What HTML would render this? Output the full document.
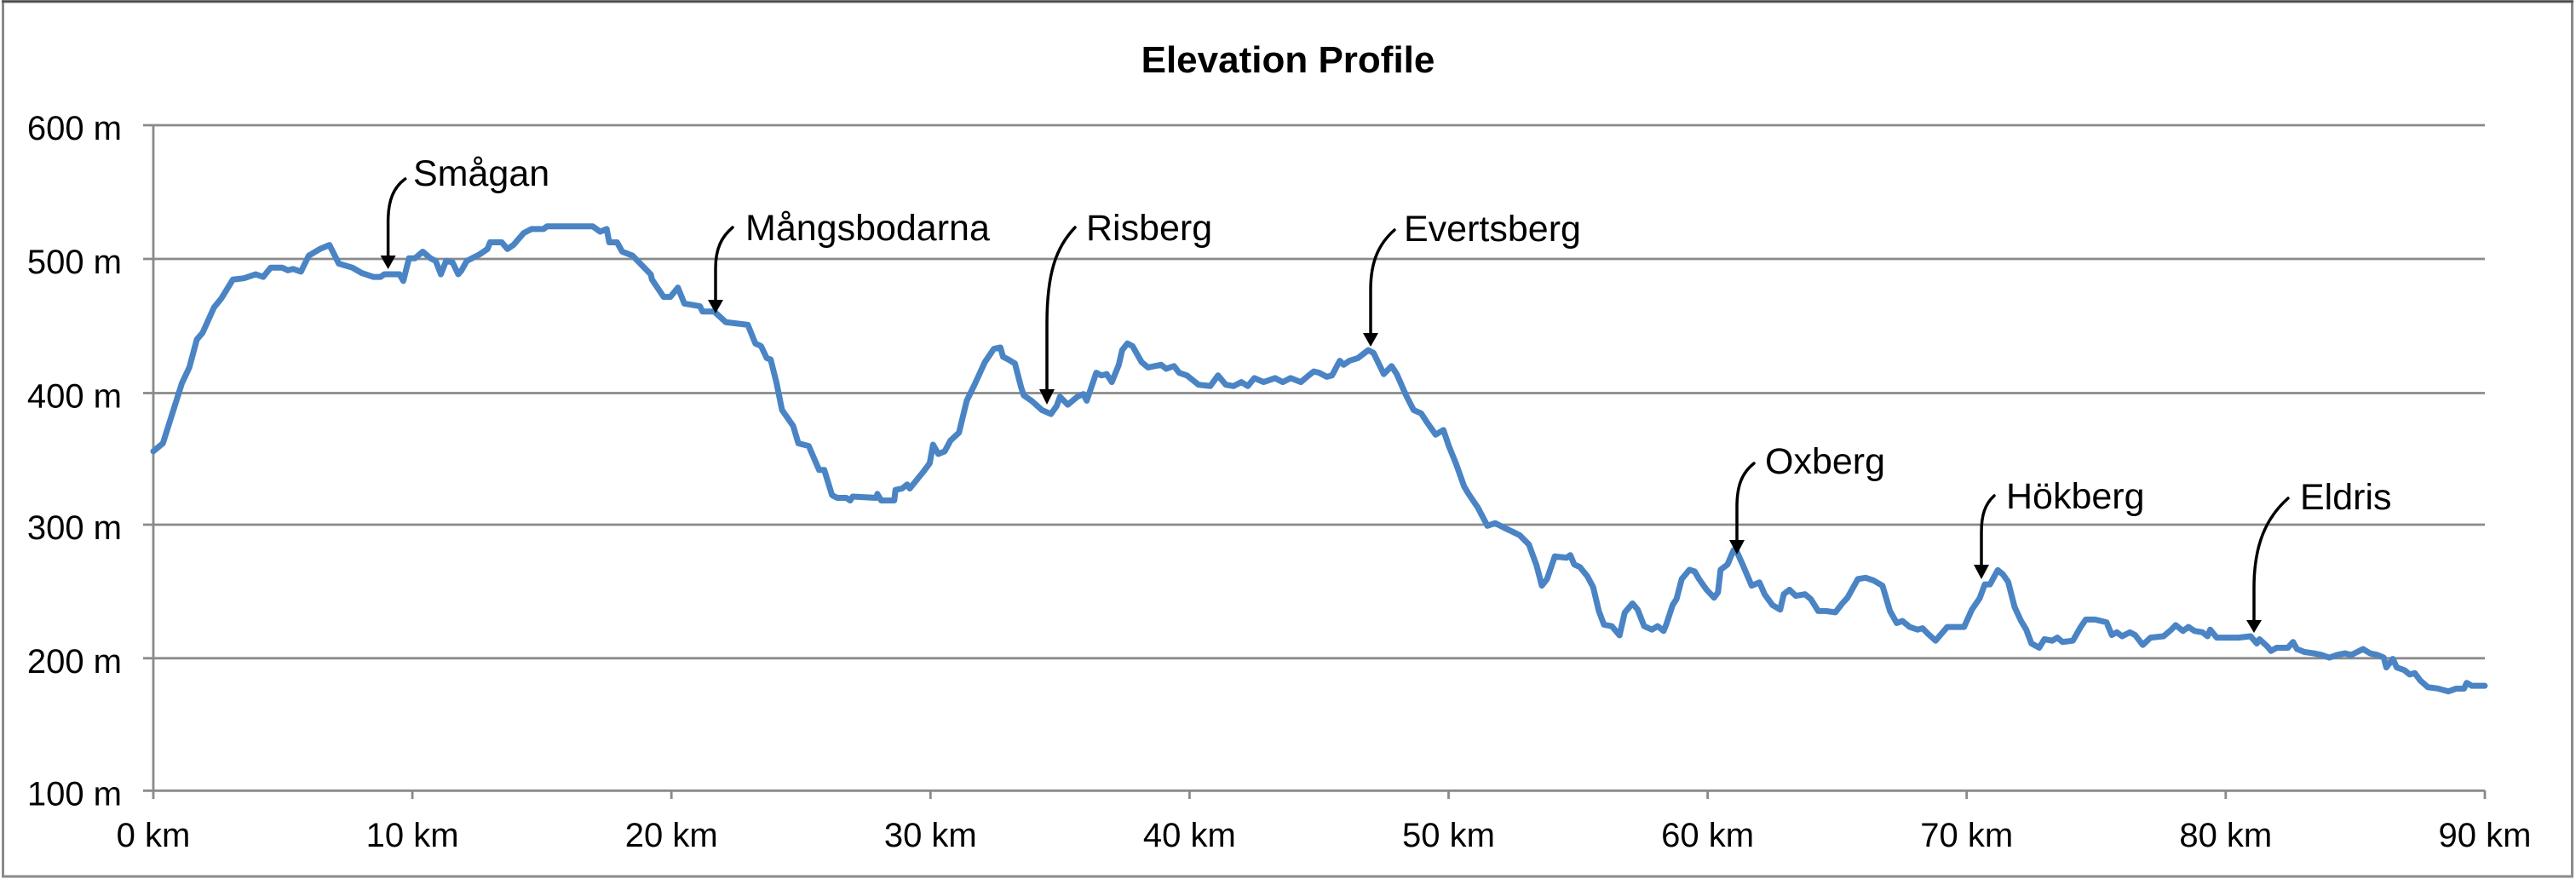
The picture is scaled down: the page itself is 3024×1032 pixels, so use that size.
<!DOCTYPE html>
<html>
<head>
<meta charset="utf-8">
<style>
  html, body { margin: 0; padding: 0; background: #ffffff; }
  body { width: 3024px; height: 1032px; overflow: hidden; }
  svg { display: block; }
  text { font-family: "Liberation Sans", Arial, sans-serif; fill: #000; }
</style>
</head>
<body>
<svg width="3024" height="1032" viewBox="0 0 3024 1032" xmlns="http://www.w3.org/2000/svg">
  <rect x="0" y="0" width="3024" height="1032" fill="#ffffff"/>
  <!-- outer frame -->
  <rect x="3.5" y="2" width="3016" height="1027" fill="none" stroke="#8a8a8a" stroke-width="3"/>
  <line x1="2" y1="1.5" x2="3021" y2="1.5" stroke="#4a4a4a" stroke-width="2.5"/>

  <!-- title -->
  <text x="1512" y="85" font-size="44" font-weight="bold" text-anchor="middle">Elevation Profile</text>

  <!-- gridlines -->
  <g stroke="#8a8a8a" stroke-width="2.8" fill="none">
    <line x1="168" y1="147" x2="2917" y2="147"/>
    <line x1="168" y1="304" x2="2917" y2="304"/>
    <line x1="168" y1="461.5" x2="2917" y2="461.5"/>
    <line x1="168" y1="616" x2="2917" y2="616"/>
    <line x1="168" y1="772.8" x2="2917" y2="772.8"/>
    <line x1="168" y1="928.3" x2="2917" y2="928.3"/>
    <!-- y axis -->
    <line x1="180" y1="147" x2="180" y2="938"/>
    <!-- x ticks -->
    <line x1="484.1" y1="928" x2="484.1" y2="938"/>
    <line x1="788.2" y1="928" x2="788.2" y2="938"/>
    <line x1="1092.3" y1="928" x2="1092.3" y2="938"/>
    <line x1="1396.4" y1="928" x2="1396.4" y2="938"/>
    <line x1="1700.5" y1="928" x2="1700.5" y2="938"/>
    <line x1="2004.6" y1="928" x2="2004.6" y2="938"/>
    <line x1="2308.7" y1="928" x2="2308.7" y2="938"/>
    <line x1="2612.8" y1="928" x2="2612.8" y2="938"/>
    <line x1="2917" y1="928" x2="2917" y2="938"/>
  </g>

  <!-- y labels -->
  <g font-size="40" text-anchor="end">
    <text x="143" y="164">600 m</text>
    <text x="143" y="321">500 m</text>
    <text x="143" y="478.5">400 m</text>
    <text x="143" y="633">300 m</text>
    <text x="143" y="789.8">200 m</text>
    <text x="143" y="945.3">100 m</text>
  </g>

  <!-- x labels -->
  <g font-size="40" text-anchor="middle">
    <text x="180" y="994">0 km</text>
    <text x="484.1" y="994">10 km</text>
    <text x="788.2" y="994">20 km</text>
    <text x="1092.3" y="994">30 km</text>
    <text x="1396.4" y="994">40 km</text>
    <text x="1700.5" y="994">50 km</text>
    <text x="2004.6" y="994">60 km</text>
    <text x="2308.7" y="994">70 km</text>
    <text x="2612.8" y="994">80 km</text>
    <text x="2917" y="994">90 km</text>
  </g>

  <!-- elevation series (km, m) mapped to pixels -->
  <g transform="matrix(30.41 0 0 -1.5626 180 1084.56)">
    <polyline fill="none" stroke="#4a84c4" stroke-width="7" stroke-linejoin="round" stroke-linecap="round" vector-effect="non-scaling-stroke"
      points="0,355 0.37,361 1.1,406 1.39,418 1.68,439 1.9,444 2.34,463 2.63,470 3.07,484 3.5,485 3.95,488 4.24,486 4.53,493 4.97,493 5.19,491 5.4,492 5.7,490 6.0,502 6.43,507 6.8,510 7.16,496 7.68,493 8.04,489 8.5,486 8.77,486 8.92,488 9.5,488 9.65,483 9.87,500 10.1,500 10.4,505 10.7,500 10.9,498 11.1,488 11.3,498 11.55,497 11.77,488 11.9,491 12.1,498 12.6,503 12.9,507 13.0,512 13.45,512 13.67,507 13.9,510 14.3,519 14.6,522 15.06,522 15.2,524 16.96,524 17.25,520 17.5,522 17.6,512 17.9,512 18.1,505 18.5,502 18.7,498 19.2,488 19.25,484 19.7,471 19.96,471 20.25,478 20.5,466 20.8,465 21.1,464 21.2,460 21.65,460 22.1,452 22.95,450 23.24,436 23.46,434 23.68,425 23.83,424 24.05,407 24.27,386 24.7,374 24.9,361 25.3,359 25.7,341 25.9,341 26.2,322 26.4,320 26.75,320 26.9,318 27.0,321 27.9,320 27.95,323 28.1,318 28.6,318 28.65,326 28.9,327 29.1,330 29.2,327 29.7,339 29.97,346 30.1,360 30.3,353 30.55,355 30.77,363 31.1,369 31.4,393 31.7,405 32.1,422 32.45,432 32.7,433 32.8,426 33.0,424 33.26,421 33.5,403 33.6,397 33.9,393 34.3,386 34.65,383 34.87,389 35.0,396 35.3,390 35.67,396 35.9,398 36.03,393 36.4,414 36.6,412 36.8,413 37.0,407 37.27,420 37.4,431 37.6,436 37.8,434 38.15,422 38.4,418 38.9,420 39.1,417 39.4,419 39.6,414 39.9,412 40.35,405 40.8,404 41.1,412 41.4,405 41.7,404 42.0,407 42.25,404 42.5,410 42.86,407 43.3,410 43.6,407 43.9,410 44.3,407 44.6,412 44.8,415 45.0,414 45.3,411 45.5,412 45.8,423 45.95,420 46.17,423 46.5,425 46.9,431 47.1,429 47.5,413 47.8,419 48.0,413 48.36,397 48.65,386 48.94,383.5 49.16,377 49.5,367.5 49.8,371 50.0,359.5 50.3,345 50.6,328.6 50.77,323 51.13,312.7 51.5,299 51.8,301 52.1,298 52.37,295.5 52.74,292 53.1,285 53.4,269 53.6,254 53.8,259 54.1,276 54.56,275 54.7,277 54.85,270 55.07,268 55.36,261 55.58,253 55.8,235 56.0,224.7 56.3,223.6 56.6,216.7 56.8,233.8 57.1,240.7 57.3,236 57.55,223.6 57.85,221 58.07,223.6 58.3,220 58.4,224.7 58.65,239.5 58.8,244 59.0,259 59.3,266 59.5,264.7 59.67,259 59.96,251 60.25,245 60.4,249 60.5,266 60.77,270 61.0,280.7 61.13,279.5 61.35,270 61.7,254 62.0,256.5 62.2,247.6 62.5,239.5 62.8,236 62.94,247.6 63.16,251 63.4,246.4 63.76,247.6 63.98,244 64.27,235 64.56,235 64.93,234 65.2,240.7 65.4,245 65.8,259 66.1,260 66.4,258 66.75,254 67.04,235 67.3,226 67.52,227.5 67.8,223 68.1,221 68.3,222 68.5,218 68.8,212.7 69.25,223 69.9,223 70.2,236 70.5,244.5 70.7,255 70.9,255 71.2,265.7 71.4,262.5 71.6,257 71.85,238 72.1,227.5 72.3,221 72.5,210.6 72.8,207.4 73.0,213.8 73.3,212.7 73.5,215 73.7,211.7 74.1,212.7 74.4,223 74.6,228.6 74.96,228.6 75.4,226.5 75.6,217 75.8,219 76.0,216 76.3,219 76.5,217 76.8,209.5 77.1,215 77.6,216 77.9,221 78.07,224.4 78.35,220 78.56,223 78.8,220 79.1,219 79.3,216 79.4,221 79.65,215 80.1,215 80.5,215 80.96,216 81.2,210.6 81.3,213.8 81.6,208.5 81.75,205 81.97,207.4 82.4,207.4 82.6,211.7 82.75,206.4 83.04,204.2 83.4,203.2 83.7,202 84.0,200 84.3,202 84.6,203.2 84.85,202 85.3,206.4 85.57,203.2 85.86,202 86.1,200 86.2,192.6 86.45,199 86.6,192.6 86.9,190.5 87.1,187.3 87.3,188.3 87.5,183 87.8,177.8 88.2,176.7 88.6,174.6 88.9,176.7 89.2,176.7 89.3,181 89.5,178.8 89.78,178.8 90,178.8"/>
  </g>

  <!-- annotation arrows -->
  <g stroke="#000" stroke-width="3.5" fill="none" stroke-linecap="round">
    <path d="M475.7,210 C462,220 455.6,235 455.6,260 L455.6,302"/>
    <path d="M860,267 C847,278 840,292 840,315 L840,354"/>
    <path d="M1262,267 C1240,290 1229,320 1229,380 L1229,459"/>
    <path d="M1637,270 C1620,285 1609,305 1609,340 L1609,393"/>
    <path d="M2059,544 C2045,555 2039,570 2039,595 L2039,636"/>
    <path d="M2341,582 C2330,592 2326,605 2326,625 L2326,665"/>
    <path d="M2686,585 C2660,608 2646,640 2646,690 L2646,730"/>
  </g>
  <g fill="#000">
    <polygon points="446.6,300 464.6,300 455.6,316"/>
    <polygon points="831,352 849,352 840,368"/>
    <polygon points="1220,457 1238,457 1229,475"/>
    <polygon points="1600,391 1618,391 1609,407"/>
    <polygon points="2030,634 2048,634 2039,651"/>
    <polygon points="2317,663 2335,663 2326,680"/>
    <polygon points="2637,728 2655,728 2646,743"/>
  </g>

  <!-- annotation labels -->
  <g font-size="43">
    <text x="485" y="218">Smågan</text>
    <text x="875" y="282">Mångsbodarna</text>
    <text x="1275" y="282">Risberg</text>
    <text x="1648" y="283">Evertsberg</text>
    <text x="2072" y="556">Oxberg</text>
    <text x="2355" y="597">Hökberg</text>
    <text x="2700" y="598">Eldris</text>
  </g>
</svg>
</body>
</html>
